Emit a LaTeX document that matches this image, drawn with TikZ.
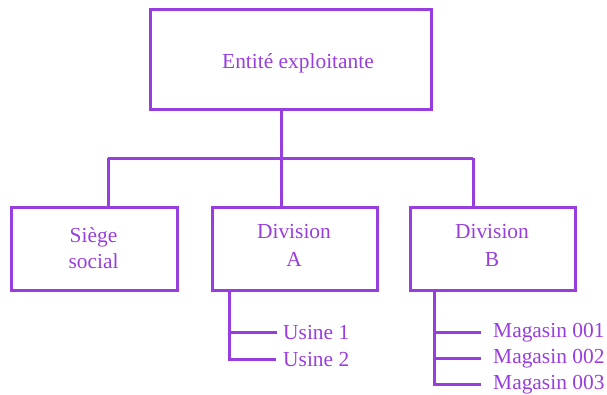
\documentclass[tikz,border=0pt]{standalone}
\usepackage{fontspec}
\setmainfont{Liberation Serif}
\newfontfamily\orgfont{Liberation Serif}
\definecolor{orgpurple}{RGB}{152,62,222}
\begin{document}
\begin{tikzpicture}[x=1bp,y=-1bp,
  every node/.style={text=orgpurple,font=\orgfont\fontsize{21.5}{26}\selectfont,inner sep=0pt},
  orgbox/.style={draw=orgpurple,line width=3bp,rectangle,minimum width=#1,minimum height=83bp},
  link/.style={draw=orgpurple,line width=3bp},
  lbl/.style={anchor=base}, leaf/.style={anchor=base west}]
\useasboundingbox (0,0) rectangle (607,394);
% boxes
\node[orgbox=281bp,minimum height=100bp] (top) at (290.5,59) {};
\node[orgbox=165bp] (siege) at (94.5,248.5) {};
\node[orgbox=165bp] (divA) at (294.5,248.5) {};
\node[orgbox=165bp] (divB) at (492.5,248.5) {};
% box texts
\node[lbl] (tt) at (298,68) {Entité exploitante};
\node[lbl] (s1) at (93.5,242) {Siège};
\node[lbl] (s2) at (93.5,268) {social};
\node[lbl] (a1) at (294,238) {Division};
\node[lbl] (a2) at (294,266) {A};
\node[lbl] (b1) at (492,238) {Division};
\node[lbl] (b2) at (492,266) {B};
% leaves
\node[leaf] (u1) at (283,339) {Usine 1};
\node[leaf] (u2) at (283,366) {Usine 2};
\node[leaf] (m1) at (493,337) {Magasin 001};
\node[leaf] (m2) at (493,363) {Magasin 002};
\node[leaf] (m3) at (493,389) {Magasin 003};
% junctions
\coordinate (jl) at (108,158);
\coordinate (jm) at (281,158);
\coordinate (jr) at (473,158);
\coordinate (ua) at (229,0);
\coordinate (mb) at (434,0);
\draw[link] (jl) -- (jr);
\draw[link] (top.south -| jm) -- (divA.north -| jm);
\draw[link] (siege.north -| jl) -- (jl);
\draw[link] (divB.north -| jr) -- (jr);
\draw[link] (divA.south -| ua) |- ([xshift=-7bp]u2.west);
\draw[link] (ua |- u1.west) -- ([xshift=-6bp]u1.west);
\draw[link] (divB.south -| mb) |- ([xshift=-12bp]m3.west);
\draw[link] (mb |- m1.west) -- ([xshift=-12bp]m1.west);
\draw[link] (mb |- m2.west) -- ([xshift=-12bp]m2.west);
\end{tikzpicture}
\end{document}
